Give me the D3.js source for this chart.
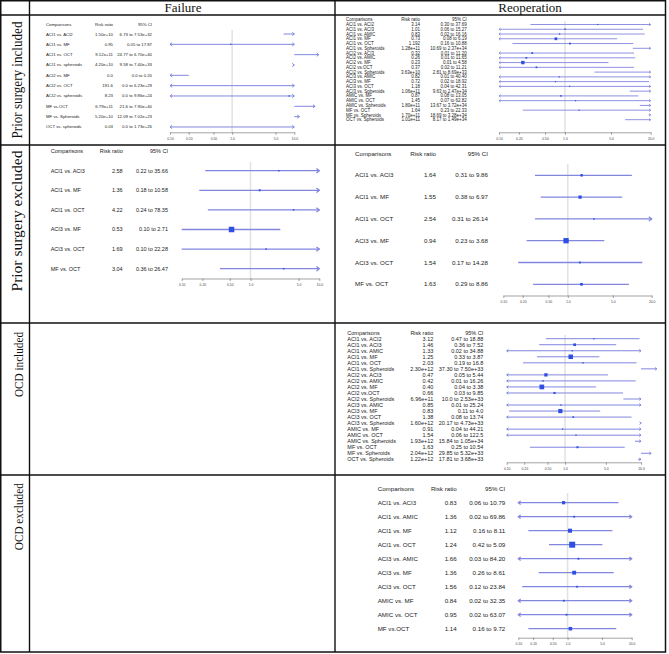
<!DOCTYPE html>
<html><head><meta charset="utf-8">
<script src="https://cdn.jsdelivr.net/npm/d3@7"></script>
<style>body{margin:0;background:#fff;} svg{display:block}</style>
</head><body><svg id="c" width="669" height="654"></svg>
<script>
// ---------------- data ----------------
const rowHeaders = ["Prior surgery included","Prior surgery excluded","OCD included","OCD excluded"];
const colHeaders = ["Failure","Reoperation"];
const tableHeads = ["Comparisons","Risk ratio","95% CI"];
const ticksTen = ["0.10","0.20","0.50","1.0","5.0","10.0"];
const ticksTwenty = ["0.10","0.20","0.50","1.0","5.0","20.0"];

// Failure – prior surgery included
const failIncCmp = ["ACI1 vs. ACI2","ACI1 vs. MF","ACI1 vs. OCT","ACI1 vs. spheroids","ACI2 vs. MF","ACI2 vs. OCT","ACI2 vs. spheroids","MF vs.OCT","MF vs. Spheroids","OCT vs. spheroids"];
const failIncRR  = ["1.50e+10","0.95","9.12e+11","4.20e+10","0.0","191.6","8.23","6.79e+11","5.20e+10","0.03"];
const failIncLo  = ["6.73","0.05","24.77","9.58","0.0","0.0","0.0","21.6","12.09","0.0"];
const failIncHi  = ["7.53e+32","17.87","6.70e+40","7.40e+33","0.20","6.23e+29","9.86e+24","7.90e+40","7.02e+23","1.73e+26"];

// Failure – prior surgery excluded
const failExcCmp = ["ACI1 vs. ACI3","ACI1 vs. MF","ACI1 vs. OCT","ACI3 vs. MF","ACI3 vs. OCT","MF vs. OCT"];
const failExcRR  = ["2.58","1.36","4.22","0.53","1.69","3.04"];
const failExcLo  = ["0.22","0.18","0.24","0.10","0.10","0.36"];
const failExcHi  = ["35.66","10.58","78.35","2.71","22.28","26.47"];

// Reoperation – prior surgery included
const reopIncCmp = ["ACI1 vs. ACI2","ACI1 vs. ACI3","ACI1 vs. AMIC","ACI1 vs. MF","ACI1 vs. OCT","ACI1 vs. Spheroids","ACI2 vs. ACI3","ACI2 vs. AMIC","ACI2 vs. MF","ACI2 vs.OCT","ACI2 vs. Spheroids","ACI3 vs. AMIC","ACI3 vs. MF","ACI3 vs. OCT","ACI3 vs. Spheroids","AMIC vs. MF","AMIC vs. OCT"," AMIC vs. Spheroids","MF vs. OCT","MF vs. Spheroids","OCT vs. Spheroids"];
const reopIncRR  = ["3.14","1.01","0.83","0.73","1.192","1.28e+11","0.32","0.26","0.23","0.37","3.63e+10","0.82","0.72","1.18","1.06e+11","0.87","1.45","1.80e+11","1.64","1.70e+11","1.01e+11"];
const reopIncLo  = ["0.30","0.06","0.02","0.08","0.16","10.69","0.01","0.01","0.01","0.02","2.81","0.01","0.02","0.04","9.63","0.08","0.07","13.67","0.23","18.69","8.17"];
const reopIncHi  = ["37.69","15.27","16.16","6.19","10.88","2.37e+34","11.20","11.65","4.58","11.21","8.69e+33","40.40","18.92","42.31","2.47e+34","13.05","62.82","3.72e+34","22.33","3.28e+34","1.49e+34"];

// Reoperation – prior surgery excluded
const reopExcCmp = ["ACI1 vs. ACI3","ACI1 vs. MF","ACI1 vs. OCT","ACI3 vs. MF","ACI3 vs. OCT","MF vs. OCT"];
const reopExcRR  = ["1.64","1.55","2.54","0.94","1.54","1.63"];
const reopExcLo  = ["0.31","0.38","0.31","0.23","0.17","0.29"];
const reopExcHi  = ["9.86","6.97","26.14","3.68","14.28","8.86"];

// Reoperation – OCD included
const ocdIncCmp = ["ACI1 vs. ACI2","ACI1 vs. ACI3","ACI1 vs. AMIC","ACI1 vs. MF","ACI1 vs. OCT","ACI1 vs. Spheroids","ACI2 vs. ACI3","ACI2 vs. AMIC","ACI2 vs. MF","ACI2 vs.OCT","ACI2 vs. Spheroids","ACI3 vs. AMIC","ACI3 vs. MF","ACI3 vs. OCT","ACI3 vs. Spheroids","AMIC vs. MF","AMIC vs. OCT"," AMIC vs. Spheroids","MF vs. OCT","MF vs. Spheroids","OCT vs. Spheroids"];
const ocdIncRR  = ["3.12","1.46","1.33","1.25","2.03","2.30e+12","0.47","0.42","0.40","0.66","6.96e+11","0.85","0.83","1.38","1.60e+12","0.91","1.54","1.93e+12","1.63","2.04e+12","1.22e+12"];
const ocdIncLo  = ["0.47","0.36","0.02","0.33","0.19","37.30","0.05","0.01","0.04","0.03","10.0","0.01","0.11","0.08","20.17","0.04","0.06","15.84","0.25","29.85","17.81"];
const ocdIncHi  = ["18.88","7.52","34.88","3.87","16.8","7.50e+33","5.44","16.26","3.38","9.85","2.53e+33","25.24","4.0","13.74","4.73e+33","44.21","122.5","1.05e+34","10.54","5.32e+33","3.68e+33"];

// Reoperation – OCD excluded
const ocdExcCmp = ["ACI1 vs. ACI3","ACI1 vs. AMIC","ACI1 vs. MF","ACI1 vs. OCT","ACI3 vs. AMIC","ACI3 vs. MF","ACI3 vs. OCT","AMIC vs. MF","AMIC vs. OCT","MF vs.OCT"];
const ocdExcRR  = ["0.83","1.36","1.12","1.24","1.66","1.36","1.56","0.84","0.95","1.14"];
const ocdExcLo  = ["0.06","0.02","0.16","0.42","0.03","0.26","0.12","0.02","0.02","0.16"];
const ocdExcHi  = ["10.79","69.86","8.11","5.09","84.20","8.61","23.84","32.35","63.07","9.72"];

// ---------------- layout ----------------
const svg = d3.select("#c");
const LINE = "#8286df", BOX = "#2e4fe2", REF = "#e2e2e2", TXT = "#222";
const colX = [0.75, 29.5, 335, 665.5];
const rowY = [0.75, 15, 145, 323, 475, 652];

const panels = [
  {cmp:failIncCmp, rr:failIncRR, lo:failIncLo, hi:failIncHi, ticks:ticksTen,
   x0:46, rrX:113, ciX:152, headY:24, y0:34, dy:10.33, axisY:132.3, r0:170, r1:294.3,
   fs:4.3, refTop:30, maxBox:5, minBox:1.3, arrow:1.6, sw:1},
  {cmp:failExcCmp, rr:failExcRR, lo:failExcLo, hi:failExcHi, ticks:ticksTen,
   x0:50.7, rrX:122.7, ciX:168, headY:151, y0:170.7, dy:19.6, axisY:278.5, r0:181.7, r1:319.3,
   fs:5.5, refTop:162, maxBox:5.5, minBox:1.5, arrow:2.2, sw:1.3},
  {cmp:reopIncCmp, rr:reopIncRR, lo:reopIncLo, hi:reopIncHi, ticks:ticksTwenty,
   x0:346, rrX:420, ciX:466.7, headY:19.7, y0:24.5, dy:4.76, axisY:132.3, r0:499, r1:650.7,
   fs:4.5, refTop:21, maxBox:3.4, minBox:1.2, arrow:1.2, sw:0.9},
  {cmp:reopExcCmp, rr:reopExcRR, lo:reopExcLo, hi:reopExcHi, ticks:ticksTwenty,
   x0:355, rrX:436, ciX:488, headY:154, y0:175.3, dy:21.8, axisY:295.5, r0:503.3, r1:651.7,
   fs:6.2, refTop:164, maxBox:5.3, minBox:1.5, arrow:2.2, sw:1.3},
  {cmp:ocdIncCmp, rr:ocdIncRR, lo:ocdIncLo, hi:ocdIncHi, ticks:ticksTwenty,
   x0:347.3, rrX:433.3, ciX:483.3, headY:332.7, y0:338.7, dy:6.03, axisY:462.3, r0:506.7, r1:641,
   fs:5.5, refTop:335, maxBox:4.7, minBox:1.3, arrow:1.3, sw:1},
  {cmp:ocdExcCmp, rr:ocdExcRR, lo:ocdExcLo, hi:ocdExcHi, ticks:ticksTwenty,
   x0:377.7, rrX:456.7, ciX:505.3, headY:489, y0:502.7, dy:14, axisY:637.7, r0:518.3, r1:631.7,
   fs:6.2, refTop:493, maxBox:6, minBox:1.8, arrow:1.8, sw:1.2}
];

// ---------------- forest panels ----------------
panels.forEach(p => {
  const g = svg.append("g");
  const tv = p.ticks.map(Number);
  const dMin = tv[0], dMax = tv[tv.length-1];
  const x = d3.scaleLog().domain([dMin, dMax]).range([p.r0, p.r1]);
  const rows = p.cmp.map((c,i) => ({c, rrS:p.rr[i], loS:p.lo[i], hiS:p.hi[i],
    est:+p.rr[i], lo:+p.lo[i], hi:+p.hi[i]}));
  const y = i => p.y0 + i*p.dy;
  const infos = rows.map(r => 1/(r.hi - r.lo));
  const box = d3.scalePow().exponent(0.75).domain([0, d3.max(infos)]).range([0, p.maxBox]);

  // reference line at 1
  g.append("line").attr("x1", x(1)).attr("x2", x(1)).attr("y1", p.refTop).attr("y2", p.axisY)
    .attr("stroke", REF).attr("stroke-width", 1.5);

  // header
  const hy = p.headY + p.fs*0.35;
  g.append("text").attr("x", p.x0).attr("y", hy).text(tableHeads[0]);
  g.append("text").attr("x", p.rrX).attr("y", hy).attr("text-anchor","end").text(tableHeads[1]);
  g.append("text").attr("x", p.ciX).attr("y", hy).attr("text-anchor","end").text(tableHeads[2]);

  rows.forEach((r,i) => {
    const yc = y(i), ty = yc + p.fs*0.35;
    g.append("text").attr("x", p.x0).attr("y", ty).text(r.c);
    g.append("text").attr("x", p.rrX).attr("y", ty).attr("text-anchor","end").text(r.rrS);
    g.append("text").attr("x", p.ciX).attr("y", ty).attr("text-anchor","end").text(r.loS + " to " + r.hiS);

    let x1, x2, aL = false, aR = false;
    if (r.lo >= dMax) { x1 = x(dMax); x2 = x(r.lo); aR = true; }
    else {
      x1 = x(Math.max(r.lo, dMin)); aL = r.lo < dMin;
      x2 = x(Math.min(r.hi, dMax)); aR = r.hi > dMax;
    }
    g.append("line").attr("x1", x1).attr("x2", x2).attr("y1", yc).attr("y2", yc)
      .attr("stroke", LINE).attr("stroke-width", p.sw);
    const a = p.arrow;
    if (aR) g.append("path").attr("d", `M${x2-a*1.3},${yc-a}L${x2},${yc}L${x2-a*1.3},${yc+a}`)
      .attr("fill","none").attr("stroke", LINE).attr("stroke-width", p.sw);
    if (aL) g.append("path").attr("d", `M${x1+a*1.3},${yc-a}L${x1},${yc}L${x1+a*1.3},${yc+a}`)
      .attr("fill","none").attr("stroke", LINE).attr("stroke-width", p.sw);
    if (r.est > 0 && r.est >= dMin && r.est <= dMax) {
      const s = Math.max(p.minBox, box(1/(r.hi - r.lo)));
      g.append("rect").attr("x", x(r.est) - s/2).attr("y", yc - s/2)
        .attr("width", s).attr("height", s).attr("fill", BOX);
    }
  });
  g.selectAll("text").attr("font-family","Liberation Sans, Arial, sans-serif")
    .attr("font-size", p.fs).attr("fill", TXT);

  // axis
  const ax = g.append("g").attr("transform", `translate(0,${p.axisY})`)
    .call(d3.axisBottom(x).tickValues(tv).tickFormat((d,i) => p.ticks[i])
      .tickSizeInner(2.5).tickSizeOuter(0).tickPadding(2.5));
  ax.select(".domain").attr("stroke", "#666").attr("stroke-width", 0.6);
  ax.selectAll(".tick line").attr("stroke", "#666").attr("stroke-width", 0.6);
  ax.selectAll(".tick text").attr("font-family","Liberation Sans, Arial, sans-serif")
    .attr("font-size", 3.4).attr("fill", "#444");
});

// ---------------- table frame ----------------
const frame = svg.append("g").attr("stroke", "#111").attr("fill", "none");
frame.append("rect").attr("x", colX[0]).attr("y", rowY[0])
  .attr("width", colX[3]-colX[0]).attr("height", rowY[5]-rowY[0]).attr("stroke-width", 1.5);
[colX[1], colX[2]].forEach(cx => frame.append("line").attr("x1", cx).attr("x2", cx)
  .attr("y1", rowY[0]).attr("y2", rowY[5]).attr("stroke-width", 1.4));
rowY.slice(1,5).forEach(ry => frame.append("line").attr("x1", colX[0]).attr("x2", colX[3])
  .attr("y1", ry).attr("y2", ry).attr("stroke-width", 1.4));

// column headers
const colCenters = [183, 530];
colHeaders.forEach((t,i) => svg.append("text").attr("x", colCenters[i]).attr("y", 12.3)
  .attr("text-anchor","middle").attr("font-family","Liberation Serif, Times New Roman, serif")
  .attr("font-size", 13).attr("fill", "#111").text(t));

// row headers (rotated)
const rowLab = [
  {cy:80, bx:21.5, fs:15.5, len:117},
  {cy:221, bx:21.5, fs:15.5, len:141},
  {cy:364.5, bx:22.8, fs:11.5, len:65},
  {cy:516.7, bx:22.8, fs:11.5, len:67}
];
rowHeaders.forEach((t,i) => {
  const L = rowLab[i];
  svg.append("text").attr("transform", `translate(${L.bx},${L.cy}) rotate(-90)`)
    .attr("text-anchor","middle").attr("font-family","Liberation Serif, Times New Roman, serif")
    .attr("font-size", L.fs).attr("fill", "#111")
    .attr("textLength", L.len).attr("lengthAdjust", "spacingAndGlyphs").text(t);
});
</script></body></html>
